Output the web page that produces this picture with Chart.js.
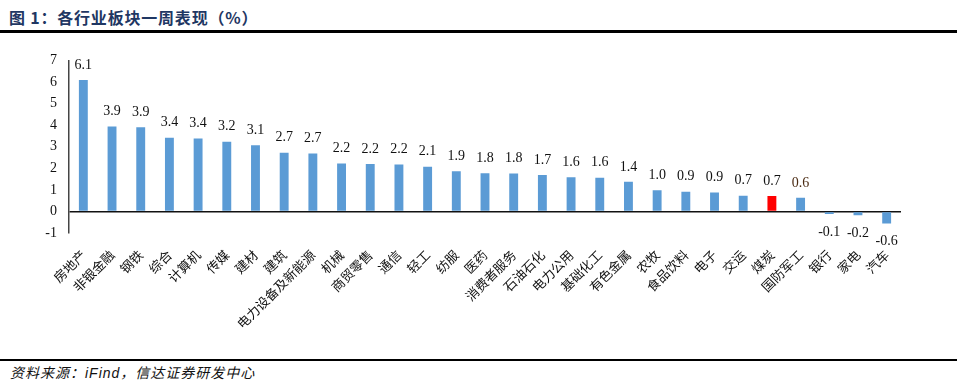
<!DOCTYPE html>
<html>
<head>
<meta charset="utf-8">
<script src="https://cdn.jsdelivr.net/npm/chart.js@4.4.1/dist/chart.umd.min.js"></script>
<style>
  html, body { margin:0; padding:0; background:#fff; }
  body { width:957px; height:388px; position:relative; overflow:hidden; }
  #title { position:absolute; left:9px; top:5px; font:bold 16px "Noto Sans CJK SC", sans-serif; color:#1f3763; letter-spacing:0.8px; }
  .rule { position:absolute; left:0; width:957px; background:#000; }
  #footer { position:absolute; left:10px; top:362px; font:italic 14px "Noto Sans CJK SC", sans-serif; color:#111; letter-spacing:1px; }
  #wrap { position:absolute; left:0; top:40px; width:957px; height:300px; }
</style>
</head>
<body>
<div id="title">图 1：各行业板块一周表现（%）</div>
<div class="rule" style="top:30px;height:3px;"></div>
<div id="wrap"><canvas id="c"></canvas></div>
<div class="rule" style="top:359px;height:2px;"></div>
<div id="footer">资料来源：<span style="font-family:'Liberation Sans',sans-serif">iFind</span>，信达证券研发中心</div>

<script>
// 行业 & 一周涨跌幅(%)
const categories = ['房地产','非银金融','钢铁','综合','计算机','传媒','建材','建筑','电力设备及新能源','机械',
  '商贸零售','通信','轻工','纺服','医药','消费者服务','石油石化','电力公用','基础化工','有色金属',
  '农牧','食品饮料','电子','交运','煤炭','国防军工','银行','家电','汽车'];
const weekReturn = [6.09,3.94,3.90,3.42,3.38,3.23,3.07,2.72,2.68,2.22,
  2.20,2.17,2.07,1.86,1.77,1.76,1.69,1.58,1.56,1.37,
  0.98,0.91,0.88,0.73,0.72,0.63,-0.12,-0.18,-0.56];
const highlight = ['煤炭'];
const yTicks = [-1,0,1,2,3,4,5,6,7];

const BLUE = '#5B9BD5', RED = '#FF0000';

// 数值标签
const valueLabels = {
  id:'valueLabels',
  afterDatasetsDraw(chart){
    const ctx = chart.ctx;
    const meta = chart.getDatasetMeta(0);
    ctx.save();
    ctx.font = '14px "Liberation Serif", serif';
    ctx.textAlign = 'center';
    ctx.textBaseline = 'middle';
    meta.data.forEach((bar, i)=>{
      const v = weekReturn[i];
      ctx.fillStyle = (v < 0.7 && v > 0) ? '#4a2a12' : '#111';
      const y = v >= 0 ? bar.y - 15 : bar.y + 18;
      ctx.fillText(v.toFixed(1), bar.x, y);
    });
    ctx.restore();
  }
};

new Chart(document.getElementById('c'), {
  type:'bar',
  data:{
    labels:categories,
    datasets:[{
      data:weekReturn,
      backgroundColor:categories.map(c => highlight.includes(c) ? RED : BLUE),
      borderWidth:0,
      barPercentage:0.31,
      categoryPercentage:1
    }]
  },
  options:{
    responsive:true,
    maintainAspectRatio:false,
    animation:false,
    layout:{ padding:{ top:16, right:56, left:0, bottom:0 } },
    plugins:{ legend:{ display:false }, tooltip:{ enabled:false } },
    scales:{
      x:{
        grid:{ display:false },
        border:{ display:false },
        afterFit(s){ s.height = 107; },
        ticks:{
          autoSkip:false, minRotation:45, maxRotation:45, padding:6,
          color:'#111', font:{ family:'"Noto Sans CJK SC", sans-serif', size:13 }
        }
      },
      y:{
        min:yTicks[0], max:yTicks[yTicks.length-1],
        afterFit(s){ s.width = 69; },
        afterBuildTicks(s){ s.ticks = yTicks.map(v => ({ value:v })); },
        border:{ display:true, color:'#444', width:1.5 },
        grid:{
          drawTicks:false,
          color:(c)=> c.tick && c.tick.value === 0 ? '#111' : 'rgba(0,0,0,0)',
          lineWidth:1.5
        },
        ticks:{
          padding:12, color:'#111',
          font:{ family:'"Liberation Serif", serif', size:14 }
        }
      }
    }
  },
  plugins:[valueLabels]
});
</script>
</body>
</html>
